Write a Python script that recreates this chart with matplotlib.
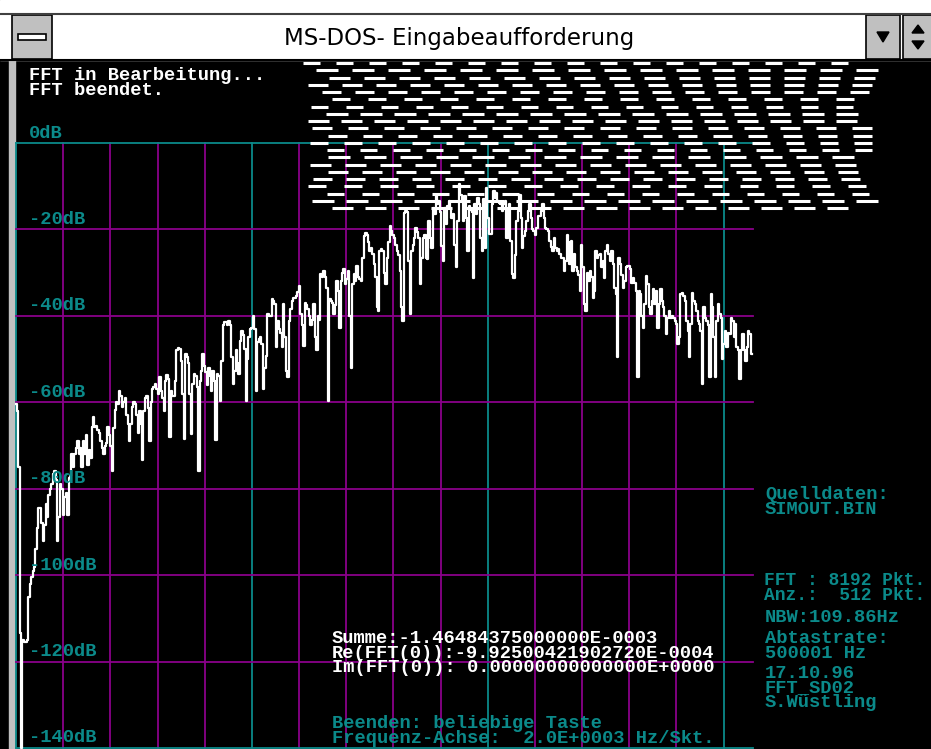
import numpy as np
import matplotlib.pyplot as plt
from matplotlib.patches import Rectangle, Polygon

W, H = 931, 749

# FFT result: level per bin in dB (first 512 of 8192 bins)
fs = 500001
n_fft = 8192
level_db = [
    -60.5, -62, -75, -113.5, -140, -115, -115.5, -115.5, -115, -105,
    -102, -100.5, -99, -98, -94, -89, -84.5, -84.5, -88, -92,
    -88.5, -83.5, -86.5, -81.5, -80, -79, -76.5, -76, -78, -92,
    -86.5, -79, -80, -86, -82, -81, -86, -77.5, -77, -72,
    -75, -72, -70.5, -69, -72, -70.5, -75, -69, -72, -67.5,
    -74.5, -71, -73, -65.7, -63.4, -65.8, -65.5, -66.5, -67, -69,
    -70.6, -72, -70, -69.5, -65.7, -67.5, -70, -76, -66, -61.8,
    -60, -60.3, -57.5, -58.5, -61, -60, -59, -63, -65, -69,
    -65, -61, -60, -60.5, -63, -67, -62, -65, -73.4, -62,
    -59, -58.5, -61.4, -69, -60, -57, -56.5, -55.8, -57, -58,
    -54.2, -57.3, -59, -62, -55, -53.8, -54.5, -68, -57.3, -58.5,
    -58.5, -55, -48, -47.5, -47.7, -50.4, -58, -68.5, -48.8, -49.5,
    -51, -58, -67.3, -55.8, -53.5, -54, -56.5, -76, -55, -52.7,
    -48.8, -51.5, -53, -56, -52, -54, -57.3, -52.7, -55, -68.8,
    -53.5, -54, -59.6, -50.4, -42, -41.5, -41.5, -42, -41.2, -42,
    -49.6, -55.8, -52.7, -48, -51, -53.5, -45.8, -43.5, -44.5, -47.7,
    -59.6, -50, -45, -43, -42.7, -40, -43, -57.3, -46, -45.4,
    -45, -46.5, -57, -52, -49.2, -39.6, -40, -40, -36.2, -36.5,
    -37.3, -47.3, -41.2, -43, -44, -47.3, -37.3, -45, -52.7, -54.2,
    -41.2, -38.5, -36.5, -35.8, -35.8, -35.4, -34.5, -33, -39.6, -42,
    -47, -37, -37.5, -38.5, -40, -42, -41, -37.3, -45, -48,
    -40, -41, -30.4, -31, -29.6, -31, -33.5, -59.6, -36, -36.5,
    -37, -39.6, -37.5, -32, -34.2, -42.7, -32, -30, -29.2, -32.7,
    -31.5, -29.6, -40, -52, -32.7, -30.4, -32, -28.5, -31, -31.5,
    -31.9, -26.5, -21.5, -20.8, -21.2, -23, -25, -24.2, -25.8, -28,
    -31, -38, -38.8, -25, -24.6, -25, -30, -32.7, -26.5, -23,
    -19.2, -20.4, -21.2, -21.9, -23.5, -25, -26, -29.6, -38, -41.2,
    -16.2, -15.8, -16, -27.3, -39.6, -25, -23.5, -22, -19.6, -20.5,
    -21.9, -32.7, -26.5, -21.9, -21.2, -26.5, -26.9, -18, -22, -24.2,
    -15, -16.5, -12.3, -14.2, -13.5, -16, -23.8, -27.3, -15, -18.8,
    -14.6, -13.5, -15, -17.3, -16.5, -23.5, -28.8, -18, -9.6, -12,
    -13.5, -18, -12.3, -17.3, -25, -14.6, -15.4, -16, -31.2, -14.2,
    -16.5, -12.7, -14.2, -22, -25, -13, -24.2, -10.4, -17.3, -21,
    -21, -14, -11.2, -12.7, -11.5, -13.5, -13.8, -14.2, -15.8, -14,
    -13.5, -21.9, -15.4, -14.2, -22.7, -30.4, -31.2, -26, -18, -15.8,
    -12, -17.3, -24.2, -21.5, -20.4, -18.1, -15.8, -14.2, -17.3, -20,
    -20.4, -21.2, -19.6, -16.9, -16.9, -15.8, -14.2, -17.3, -19.6, -20,
    -20.4, -22.7, -24, -25, -21.9, -24.2, -25, -24.6, -25.8, -26.5,
    -26.5, -29.6, -27.3, -21.2, -23, -28.1, -22.7, -29.6, -25.8, -28.8,
    -29.6, -30.5, -34.2, -23.5, -28.8, -37.3, -38.8, -30, -31.9, -29.6,
    -31, -35.8, -34.2, -25, -26.5, -26, -25.8, -28.8, -27.3, -31.2,
    -25, -23.5, -25.8, -27.3, -25, -28.1, -33.5, -35, -49.6, -26.5,
    -28, -30.5, -33.5, -31.9, -28.8, -28.5, -28.5, -29.2, -32.3, -31.2,
    -32.3, -34.2, -54.2, -34.2, -35, -40, -42.7, -37.3, -30.8, -32.7,
    -38, -39.6, -36.5, -33.8, -37.3, -34.2, -42.7, -37.3, -33.8, -36.5,
    -38, -40, -44.2, -40.4, -38.8, -40.4, -40, -40.5, -41.2, -41.9,
    -46.5, -45, -35, -34.6, -35.5, -36.5, -41.2, -43.5, -49.6, -41.9,
    -34.6, -36.5, -37.3, -38.8, -41.2, -41.9, -43.5, -55.8, -38, -40.4,
    -41.2, -42, -54.2, -35, -38, -45, -54.2, -41.2, -37.3, -39.6,
    -40.4, -50, -46.5, -43.5, -47.3, -44, -44.2, -40.4, -41.2, -45,
    -41.9, -47.3, -48, -54.6, -48, -44.2, -48, -50.4, -47.3, -43.5,
    -44.2, -48.8,
]
freq = np.arange(len(level_db)) * fs / n_fft

db_ticks = [0, -20, -40, -60, -80, -100, -120, -140]
db_labels = ['0dB', '-20dB', '-40dB', '-60dB', '-80dB', '-100dB', '-120dB', '-140dB']
hz_per_div = 2000
f_max = len(level_db) * fs / n_fft

# console text blocks
status_lines = ['FFT in Bearbeitung...', 'FFT beendet.']
result_lines = ['Summe:-1.46484375000000E-0003',
                'Re(FFT(0)):-9.92500421902720E-0004',
                'Im(FFT(0)): 0.00000000000000E+0000']
footer_lines = ['Beenden: beliebige Taste',
                'Frequenz-Achse:  2.0E+0003 Hz/Skt.']
source_lines = ['Quelldaten:', 'SIMOUT.BIN']
points_lines = ['FFT : 8192 Pkt.', 'Anz.:  512 Pkt.']
nbw_lines = ['NBW:109.86Hz']
rate_lines = ['Abtastrate:', '500001 Hz']
sign_lines = ['17.10.96', 'FFT_SD02', 'S.W\u00fcstling']

TEAL = '#0b8a8a'
MAGENTA = '#8a008a'
GRAY = '#c0c0c0'
MONO = dict(family=['Liberation Mono', 'DejaVu Sans Mono'], weight='bold')
LINE_PX = 14

fig = plt.figure(figsize=(W / 100, H / 100), dpi=100, facecolor='black')

# window chrome, in pixel coordinates
bg = fig.add_axes([0, 0, 1, 1], zorder=0)
bg.set_xlim(0, W)
bg.set_ylim(H, 0)
bg.axis('off')
bg.add_patch(Rectangle((0, 0), W, 60, color='white'))
bg.plot([0, W], [13.5, 13.5], color='#404040', lw=1.5)
bg.plot([0, W], [59.5, 59.5], color='black', lw=1.5)
bg.add_patch(Rectangle((9, 60), 6, H - 60, color=GRAY))
bg.add_patch(Rectangle((12, 15), 40, 44, facecolor=GRAY, edgecolor='black', lw=1.2))
bg.add_patch(Rectangle((18, 34), 28, 6, facecolor='white', edgecolor='black', lw=1.2))
bg.add_patch(Rectangle((866, 15), 34, 44, facecolor=GRAY, edgecolor='black', lw=1.2))
bg.add_patch(Rectangle((903, 15), 30, 44, facecolor=GRAY, edgecolor='black', lw=1.2))
bg.add_patch(Polygon([(877, 32), (889, 32), (883, 42)], color='black'))
bg.add_patch(Polygon([(912, 33), (924, 33), (918, 25)], color='black'))
bg.add_patch(Polygon([(912, 41), (924, 41), (918, 49)], color='black'))
bg.text(459, 38, 'MS-DOS- Eingabeaufforderung', ha='center', va='center',
        family='DejaVu Sans', size=16.5, color='black')

# spectrum plot
ax = fig.add_axes([16 / W, 1 - 748 / H, 737 / W, 605 / H], zorder=1)
ax.set_xlim(0, f_max)
ax.set_ylim(-140, 0)
ax.axis('off')
for f in np.arange(0, f_max, hz_per_div):
    c = TEAL if f % 10000 == 0 else MAGENTA
    ax.axvline(f, color=c, lw=1.3, clip_on=False, zorder=1)
for d in db_ticks:
    c = TEAL if d in (0, -140) else MAGENTA
    ax.axhline(d, color=c, lw=1.3, clip_on=False, zorder=1)
ax.plot(freq, level_db, color='white', lw=1.6, drawstyle='steps-mid',
        clip_on=False, zorder=2)
for d, lab in zip(db_ticks, db_labels):
    ax.annotate(lab, xy=(0, d), xytext=(13, 10), textcoords='offset pixels',
                color=TEAL, ha='left', va='center', zorder=3, size=13.5, **MONO)

# text screen overlay
fg = fig.add_axes([0, 0, 1, 1], zorder=2)
fg.set_xlim(0, W)
fg.set_ylim(H, 0)
fg.axis('off')

# garbled rows of dashes left on the screen
for i in range(21):
    y = 63 + 7.25 * i
    period = 33 + (i * 7) % 4
    length = 17 + (i * 5) % 6
    x = 303 + (i * 13) % period
    starts = np.arange(x, 880 - length, period)
    fg.hlines([y] * len(starts), starts, starts + length, color='white', lw=2.2)


def block(lines, x, y0, color, size=13.5):
    yc = y0 + LINE_PX * (len(lines) - 1) / 2
    fg.text(x, yc, '\n'.join(lines), color=color, va='center', ha='left',
            linespacing=0.8, size=size, **MONO)


block(status_lines, 29, 76, 'white')
block(result_lines, 332, 639, 'white')
block(footer_lines, 332, 724, TEAL)
block(source_lines, 765, 495, TEAL)
block(points_lines, 764, 581, TEAL, size=12.9)
block(nbw_lines, 765, 617, TEAL)
block(rate_lines, 765, 639, TEAL)
block(sign_lines, 765, 674, TEAL)

fig.savefig('out.png', dpi=100, facecolor='black')
